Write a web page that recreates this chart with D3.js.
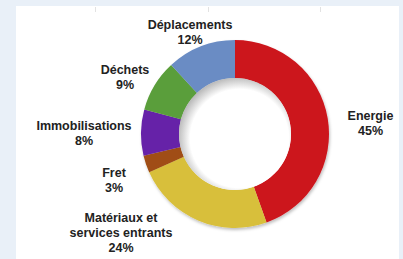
<!DOCTYPE html>
<html>
<head>
<meta charset="utf-8">
<script src="https://cdn.jsdelivr.net/npm/d3@7"></script>
<style>
  html, body { margin: 0; padding: 0; background: #e9f0f8; }
  svg { display: block; }
  .lbl { font-family: "Liberation Sans", Arial, sans-serif; font-weight: bold; font-size: 12.5px; fill: #222; }
</style>
</head>
<body>
<div id="chart"></div>
<script>
// slices, clockwise from 12 o'clock
var categories = ["Energie", "Matériaux et|services entrants", "Fret", "Immobilisations", "Déchets", "Déplacements"];
var shares = [45, 24, 3, 8, 9, 12];
var colors = ["#cc141c", "#d8bf3b", "#a04e12", "#6622a8", "#5a9e3a", "#6a8cc4"];

// label anchors (centre x, first baseline) relative to pie centre
var labelOffsets = [[135.5, -14.5], [-114, 88], [-121, 43], [-151, -4], [-110, -60], [-45, -105.5]];

var W = 403, H = 259;
var cx = 235, cy = 134, rOuter = 94, rInner = 56;
var lineH = 15;

var svg = d3.select("#chart").append("svg")
    .attr("width", W)
    .attr("height", H);

var defs = svg.append("defs");

defs.append("filter")
    .attr("id", "shadow")
    .attr("x", "-20%").attr("y", "-20%")
    .attr("width", "140%").attr("height", "140%")
    .append("feDropShadow")
    .attr("dx", 1).attr("dy", 2)
    .attr("stdDeviation", 1.5)
    .attr("flood-color", "#000")
    .attr("flood-opacity", 0.25);

var hole = defs.append("radialGradient")
    .attr("id", "hole")
    .attr("cx", "54%").attr("cy", "54%").attr("r", "55%");
hole.append("stop").attr("offset", "80%").attr("stop-color", "#fff");
hole.append("stop").attr("offset", "100%").attr("stop-color", "#bbb");

// white panel
svg.append("rect")
    .attr("x", 16).attr("y", 6)
    .attr("width", 383).attr("height", H - 6)
    .attr("fill", "#fff");

// faint ticks at top
svg.selectAll(".tick").data([95, 208, 320]).enter().append("rect")
    .attr("x", function (d) { return d; })
    .attr("y", 7).attr("width", 1).attr("height", 5)
    .attr("fill", "#e2e2e2");

var pie = d3.pie().sort(null).value(function (d) { return d; });
var arc = d3.arc().innerRadius(rInner).outerRadius(rOuter);

var g = svg.append("g")
    .attr("transform", "translate(" + cx + "," + cy + ")");

g.append("g")
    .attr("filter", "url(#shadow)")
    .selectAll("path")
    .data(pie(shares))
    .enter().append("path")
    .attr("d", arc)
    .attr("fill", function (d, i) { return colors[i]; });

// inner shadow of the hole
g.append("circle")
    .attr("r", rInner)
    .attr("fill", "url(#hole)");

var labels = g.selectAll(".lbl")
    .data(categories)
    .enter().append("text")
    .attr("class", "lbl")
    .attr("text-anchor", "middle")
    .attr("transform", function (d, i) {
        return "translate(" + labelOffsets[i][0] + "," + labelOffsets[i][1] + ")";
    });

labels.each(function (d, i) {
    var lines = d.split("|").concat([shares[i] + "%"]);
    var t = d3.select(this);
    lines.forEach(function (s, k) {
        t.append("tspan").attr("x", 0).attr("y", k * lineH).text(s);
    });
});
</script>
</body>
</html>
